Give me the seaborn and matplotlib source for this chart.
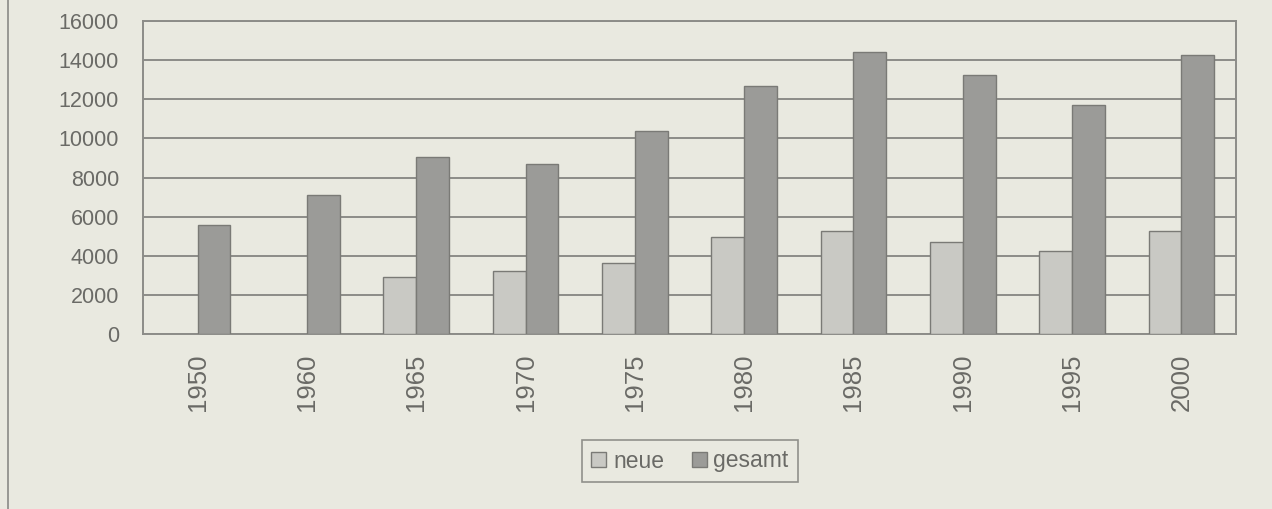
import numpy as np
import pandas as pd
import matplotlib
matplotlib.use("Agg")
import matplotlib.pyplot as plt
import seaborn as sns
from matplotlib.lines import Line2D

years = ["1950", "1960", "1965", "1970", "1975", "1980", "1985", "1990", "1995", "2000"]
neue = [np.nan, np.nan, 2900, 3200, 3650, 4950, 5250, 4700, 4250, 5250]
gesamt = [5560, 7090, 9030, 8700, 10400, 12680, 14400, 13250, 11700, 14270]
series = ["neue", "gesamt"]
yticks = [0, 2000, 4000, 6000, 8000, 10000, 12000, 14000, 16000]

df = pd.DataFrame({
    "Jahr": years * 2,
    "Serie": ["neue"] * len(years) + ["gesamt"] * len(years),
    "Wert": neue + gesamt,
})

bg = "#e9e9e0"
txt = "#6a6a66"
grid = "#8c8c88"
sns.set_style("white")
plt.rcParams["font.family"] = ["Liberation Sans", "DejaVu Sans"]

fig = plt.figure(figsize=(12.72, 5.09), dpi=100, facecolor=bg)
ax = fig.add_axes([0.1124, 0.3438, 0.8593, 0.6149])
ax.set_facecolor(bg)

sns.barplot(data=df, x="Jahr", y="Wert", hue="Serie", order=years, hue_order=series,
            palette={"neue": "#cacac3", "gesamt": "#9c9c97"}, width=0.6,
            edgecolor="#7a7a76", linewidth=1.0, ax=ax, zorder=3)

ax.set_ylim(0, 16000)
ax.set_xlim(-0.5, len(years) - 0.5)
ax.set_yticks(yticks)
ax.set_yticklabels([str(v) for v in yticks], fontsize=15.5, color=txt)
ax.set_xticks(range(len(years)))
ax.set_xticklabels(years, rotation=90, fontsize=18.5, color=txt)
ax.tick_params(axis="x", length=0, pad=14)
ax.tick_params(axis="y", length=4.3, color=grid, width=1.2, pad=13)
ax.set_xticks(np.arange(-0.5, len(years), 1.0), minor=True)
ax.tick_params(axis="x", which="minor", length=5, color=grid, width=1.2, direction="out")
ax.set_xlabel("")
ax.set_ylabel("")
ax.yaxis.grid(True, color=grid, linewidth=1.4, zorder=0)
ax.set_axisbelow(True)
for s in ax.spines.values():
    s.set_color(grid)
    s.set_linewidth(1.4)

leg = ax.legend(loc="center", ncol=2, frameon=True, fontsize=16.5, handlelength=0.65,
                handleheight=0.65, handletextpad=0.3, columnspacing=1.2, borderpad=0.4,
                fancybox=False, labelcolor=txt)
leg.set_bbox_to_anchor((690 / 1272, 1 - 461 / 509), transform=fig.transFigure)
leg.get_frame().set_edgecolor("#7a7a76")
leg.get_frame().set_facecolor(bg)
leg.get_frame().set_linewidth(1.2)

fig.add_artist(Line2D([0.0065, 0.0065], [0, 1], transform=fig.transFigure,
                      color="#8a8a86", linewidth=1.2))

fig.savefig("out.png", dpi=100, facecolor=bg)
